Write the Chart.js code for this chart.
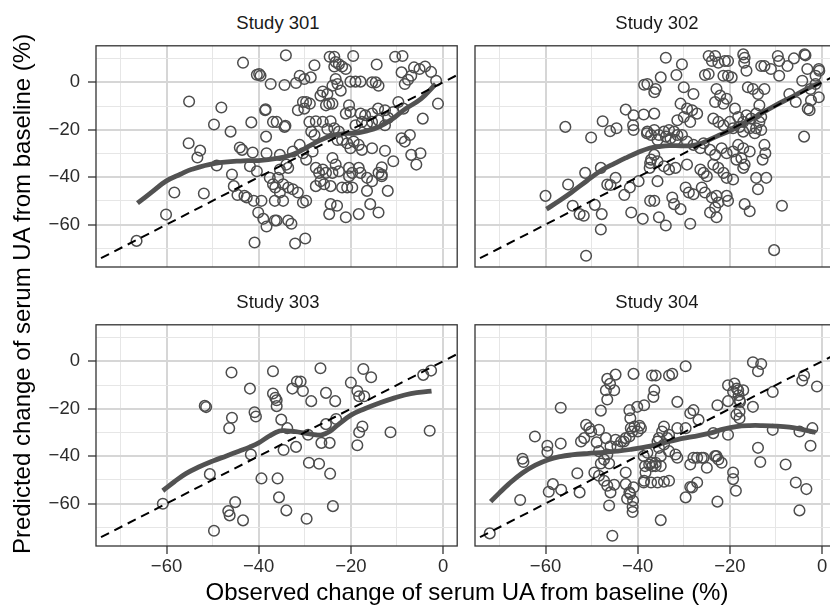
<!DOCTYPE html>
<html><head><meta charset="utf-8">
<script src="https://cdn.jsdelivr.net/npm/chart.js@4"></script>
<style>
html,body{margin:0;padding:0;background:#fff;}
body{width:830px;height:605px;overflow:hidden;position:relative;font-family:"Liberation Sans",Arial,sans-serif;}
canvas{position:absolute;}
.strip{position:absolute;font-size:18.5px;line-height:18.5px;color:#1a1a1a;text-align:center;width:364px;white-space:nowrap;}
.xt{position:absolute;left:67px;width:800px;top:579.7px;font-size:24px;line-height:24px;text-align:center;color:#000;white-space:nowrap;}
.yt{position:absolute;left:-277.6px;top:282.3px;width:600px;height:24px;font-size:24px;line-height:24px;text-align:center;color:#000;white-space:nowrap;transform:rotate(-90deg);}
</style></head><body>
<script>
// ---- categories / labels ----
const studies = ['Study 301', 'Study 302', 'Study 303', 'Study 304'];
const xMajorTicks = [-60, -40, -20, 0];
const yMajorTicks = [-60, -40, -20, 0];
const xMinorTicks = [-70, -50, -30, -10];
const yMinorTicks = [-70, -50, -30, -10, 10];
const xTitle = 'Observed change of serum UA from baseline (%)';
const yTitle = 'Predicted change of serum UA from baseline (%)';

// ---- observed (x) vs predicted (y) points ----
const obs301 = [
[-66.5,-66.9],[-60.1,-55.8],[-58.3,-46.5],[-51.9,-46.9],[-55.1,-8.1],[-55.2,-25.7],[-52.7,-28.8],[-53.3,-31.7],[-49.1,-35.1],[-48.1,-10.6],
[-49.7,-17.8],[-46.1,-20.8],[-43.4,8.3],[-40.4,3.2],[-39.9,3.5],[-39.6,2.8],[-37.4,-0.7],[-41.6,-16.9],[-38.6,-11.8],[-36.9,-16.7],
[-38.4,-22.9],[-44.1,-27.5],[-43.6,-28.5],[-41.3,-29.6],[-38.3,-29.9],[-41.9,-35.4],[-40.4,-37.5],[-45.8,-38.9],[-45.4,-43.8],[-44.6,-47.5],
[-43.1,-47.9],[-42.6,-48.6],[-41.1,-50],[-39.4,-50],[-40.1,-54.9],[-39,-57.6],[-38.3,-60.8],[-40.9,-67.6],[-37.6,-40.3],[-36.9,-43],
[-36.5,-50],[-36.5,-58.3],
[-34.1,11.4],[-24.6,10.8],[-23.6,10.8],[-19.5,11.1],[-27.9,7.2],[-23.3,8.6],[-22.6,7.6],[-21.9,6.7],[-23.6,6.7],[-21.1,5.6],
[-14.4,7.5],[-10.4,10.8],[-8.8,11.1],[-9,4.2],[-6.3,6.3],[-5.1,5.6],[-3.9,6.7],[-2.6,4.4],[-7.6,1.1],[-6.9,2.8],
[-8.3,-0.7],[-1.5,0.7],[-1.1,-9],[-4.4,-15.3],[-31.1,2.8],[-31.9,-0.3],[-30.1,1.4],[-28.7,2.1],[-34.4,-1.1],[-26.1,-3.9],
[-25.1,-4.9],[-26.6,-5.6],[-23.3,1.4],[-24,-1.4],[-22.9,-0.7],[-22.2,-3.5],[-20.1,0.3],[-19,0.3],[-17.9,0.3],[-15.4,0],
[-14.6,0],[-14,-1.4],[-30.4,-8.3],[-29.7,-8.3],[-31.5,-11.8],[-30.1,-11.1],[-28.9,-9],[-24.7,-9],[-25.4,-9.7],[-24,-9],
[-20.4,-9.7],[-21.1,-13.2],[-20.1,-12.5],[-17.9,-13.2],[-16.9,-13.9],[-15.4,-13.2],[-14.1,-11.1],[-12.6,-11.8],[-11.9,-15],[-10.8,-12.5],
[-9.7,-8.3],[-8.6,-11.1],[-36.1,-16.7],[-34.4,-18.8],[-29,-16.7],[-27.6,-16.4],[-26.1,-16.7],[-24.4,-16.4],[-28.6,-20.8],[-27.9,-22.2],
[-25.1,-19.7],[-23.6,-19.4],[-22.6,-20.8],[-19,-18.1],[-17.6,-16.7],[-16.5,-17.4],[-15.4,-16.7],[-14,-16],[-12.6,-18.1],[-22.9,-24.3],
[-21.9,-24.3],[-20.1,-27.8],[-20.8,-25.7],[-19.4,-25],[-18.3,-26.4],[-17.6,-28.5],[-15.4,-27.8],[-9,-23.6],[-8.3,-25],[-7.2,-22.2],
[-6.9,-30.6],[-4.9,-29.9],[-5.8,-34.7],[-12.6,-28.9],[-10.8,-33.3],[-13.3,-35.8],[-13.3,-38.9],[-31.1,-26.4],[-32.6,-29.2],[-30.4,-29.9],
[-28.3,-29.2],[-29.7,-32.6],[-35.4,-30.6],[-34,-34.7],[-33.6,-36.1],[-35.4,-36.8],[-27.6,-36.1],[-26.9,-38.2],[-26.1,-36.8],[-25.4,-38.2],
[-26.6,-41.7],[-27.6,-43.8],[-25.8,-43],[-24,-31.9],[-23.3,-34.7],[-24,-38.2],[-22.6,-37.5],[-20.4,-36.1],[-19.7,-38.2],[-20.4,-39.6],
[-18.3,-36.1],[-17.9,-38.2],[-16.5,-40.3],[-21.9,-44.4],[-20.8,-44.4],[-19.7,-44.4],[-24.4,-43.8],[-16.5,-45.8],[-15.4,-41.7],[-14,-38.2],
[-13.3,-39.6],[-12,-45.8],[-35.8,-40.3],[-34.7,-43],[-33.6,-44.4],[-32.6,-45.1],[-31.5,-46.5],[-35.4,-46.5],[-36.4,-44.4],[-30.4,-50.7],
[-29.7,-50],[-34.7,-50],[-24.4,-51.4],[-23,-52.1],[-24.7,-55.6],[-21.1,-56.9],[-18.3,-55.6],[-15.8,-51.4],[-14,-54.9],[-36.1,-58.3],
[-33.6,-58.3],[-32.9,-59.7],[-32.1,-68],[-29.9,-65.9],[-34.2,-18.3],[-38.5,-11.4]
];
const obs302 = [
[-60,-47.9],[-51.2,-73.2],[-55.7,-18.8],[-55.1,-43.1],[-54.1,-52.1],[-52.6,-55.6],[-51.7,-56.3],[-51.4,-38.2],[-50.1,-23.3],[-49.3,-51.7],
[-47.8,-55.6],[-48,-62.1],[-48,-36.1],[-47.6,-16.4],[-46,-20.6],[-44.6,-19.4],[-46.6,-43.1],[-45.9,-43.3],[-44.8,-40.3],[-42.9,-47.5],
[-41.7,-44.4],[-39.8,-41.7],[-41.4,-54.9],[-38.9,-57.6],[-42.6,-11.5],[-40.9,-13.9],[-41,-18.1],[-40.9,-20.1],[-38.7,-13.6],[-38.6,-1],
[-38,-21.5],[-37.3,-34],[-37.4,-36.1],[-37.3,-50],
[-33.9,10.4],[-30.4,7.6],[-31.6,3.1],[-35,2.1],[-36.1,-2.8],[-36.4,-4.2],[-37.9,-0.7],[-30,-2.1],[-27.9,-4.9],[-24.6,11.1],
[-23.2,11.1],[-23.9,9],[-22.5,8.3],[-21.1,9],[-20.4,9],[-25.4,3.1],[-24.6,3.5],[-21.4,2.8],[-20.4,2.8],[-19.6,2.1],
[-17.1,11.8],[-16.8,10.4],[-16.9,8.3],[-16.4,4.9],[-13.2,6.9],[-12.5,6.9],[-11.1,5.6],[-9.6,11.1],[-9.3,9],[-7.5,6.9],
[-6.1,10.1],[-3.6,11.4],[-3.2,5.6],[-1.4,2.8],[-0.7,5.6],[-9.3,2.8],[-4.3,0.7],[-1.4,-0.7],[-2.5,-2.8],[-0.7,-6.3],
[-3.1,-11.1],[-7.1,-4.9],[-5.7,-8.3],[-3.9,-22.9],[-10.4,-70.8],[-8.7,-52.1],[-22.9,-2.8],[-22.1,-5.6],[-23.2,-8.3],[-21.4,-9],
[-20.7,-6.9],[-16.1,-2.1],[-15,-2.8],[-13.9,-4.9],[-12.5,-2.8],[-13.6,-9.7],[-18.9,-11.1],[-18.2,-14.6],[-17.1,-16.7],[-16.4,-13.9],
[-15.4,-15.3],[-14.3,-13.2],[-13.2,-14.6],[-13.6,-16.7],[-14.3,-19.4],[-30.7,-9],[-29.3,-11.1],[-28.2,-11.8],[-27.1,-13.2],[-31.4,-16],
[-30,-14.6],[-28.6,-16.7],[-36.4,-13.2],[-37.9,-20.8],[-36.4,-20.1],[-35.4,-22.2],[-34.3,-20.8],[-33.2,-20.1],[-32.1,-20.8],[-31.4,-22.2],
[-37.1,-22.2],[-35.7,-24.3],[-33.9,-22.9],[-32.9,-23.6],[-31.8,-24.3],[-30.4,-22.2],[-29.3,-25],[-23.6,-15.3],[-22.5,-16.7],[-21.4,-18.1],
[-20,-16.7],[-19.3,-19.4],[-17.9,-18.8],[-17.1,-20.8],[-15.7,-19.4],[-14.6,-21.5],[-13.2,-20.1],[-27.9,-26.4],[-26.4,-27.8],[-25.7,-25.7],
[-24.3,-28.5],[-23.2,-30.6],[-21.8,-27.8],[-20.7,-29.9],[-19.3,-29.2],[-18.2,-26.4],[-17.1,-27.8],[-15.7,-29.2],[-12.5,-26.4],[-12.3,-29.9],
[-12.9,-32.6],[-17.5,-32],[-16.8,-34.7],[-17.1,-36.1],[-18.6,-32.6],[-36.4,-30.6],[-35.7,-33.3],[-34.3,-35.4],[-33.2,-36.8],[-31.8,-36.1],
[-37.1,-32.6],[-29.3,-34.7],[-26.4,-36.8],[-25.7,-38.2],[-25,-39.6],[-23.6,-34.7],[-22.5,-36.1],[-21.4,-38.2],[-20.7,-40.3],[-19.3,-41],
[-14.3,-40.3],[-12.1,-40.3],[-13.9,-45.1],[-35.7,-41.7],[-29.6,-44.4],[-28.9,-46.5],[-27.9,-47.2],[-26.1,-44.4],[-25.4,-46.5],[-23.9,-48.6],
[-22.9,-47.9],[-22.5,-50.7],[-20.7,-47.9],[-20.4,-50],[-32.5,-48.6],[-32.1,-51.4],[-30.7,-53.5],[-36.4,-50],[-35.4,-56.9],[-33.9,-60.4],
[-28.6,-59.7],[-24.3,-54.9],[-22.9,-56.9],[-23.2,-52.8],[-16.8,-51.4],[-15.7,-54.4],[-2.4,-7.6],[-2.7,-11.8],[-0.6,4.9],[-3.8,11.8]
];
const obs303 = [
[-60.8,-60.1],[-49.7,-71.5],[-50.6,-47.6],[-51.7,-18.8],[-51.4,-19.3],[-45.9,-4.7],[-45.8,-23.8],[-46.4,-28.2],[-41.9,-11.5],[-40.9,-21.5],
[-40.6,-23.3],[-41.7,-39.3],[-39.4,-49.4],[-46.6,-63.2],[-46.3,-65],[-45.1,-59.4],[-43.4,-67.1],[-36.9,-4.2],[-36.9,-13.6],[-36.4,-15.4],
[-36.1,-16.4],[-36.1,-18.9],[-35.1,-24.6],[-33.8,-28.2],[-34.6,-37.4],[-35.9,-49.4],[-35.6,-57.4],[-34,-62.9],[-32.7,-11.5],[-31.7,-8.5],
[-31.9,-36.1],[-26.6,-2.9],[-30.9,-8.5],[-30.4,-12.5],[-28.6,-16.8],[-25.4,-13.3],[-23.4,-16.8],[-17.3,-3.2],[-15.6,-6.7],[-20,-9],
[-18.6,-12.5],[-18.2,-14.7],[-17.1,-14.7],[-4.3,-5.7],[-2.6,-3.9],[-2.9,-29.3],[-11.4,-29.9],[-17.5,-27.5],[-18.2,-29.9],[-18.6,-35.4],
[-23.2,-24.3],[-25.4,-26.5],[-26.4,-34.4],[-24.6,-34.4],[-29.3,-31],[-29.1,-42.8],[-26.9,-43.2],[-24.5,-47.4],[-29.6,-66.4],[-23.9,-61.1]
];
const obs304 = [
[-72.1,-72.6],[-65.5,-58.5],[-65,-41.1],[-64.8,-42.5],[-62.3,-31.7],[-59.6,-35.6],[-59.6,-38.3],[-56.7,-19.6],[-56.7,-34.7],[-59.3,-55],
[-58.4,-51.8],[-56.6,-54.2],[-53.1,-47.2],[-52.6,-55.3],[-51.2,-26.8],[-50.5,-28.2],[-50.1,-29.6],[-52.3,-33.8],[-51.6,-32.4],[-48.4,-28.9],
[-48.9,-34.2],[-46.9,-32.4],[-48,-20.8],[-46.6,-7.4],[-44.8,-5.6],[-46.9,-12.2],[-45.1,-12.2],[-46.6,-16.1],[-40.9,-5.3],[-36.9,-6],
[-41.8,-20.6],[-40.1,-19.2],[-38.6,-18.5],[-41.6,-24],[-40.7,-27.5],[-39.6,-27.2],[-41.2,-29.6],[-41.8,-31.7],[-43,-33.8],[-44.4,-35.8],
[-44.8,-33.1],[-48.4,-37.9],[-46.6,-39.3],[-47.3,-41.4],[-45.9,-35.8],[-49.4,-46.9],[-48.4,-48.3],[-47.3,-50.4],[-46.6,-52.5],[-45.9,-55.3],
[-46.2,-60.8],[-42.6,-46.9],[-42.6,-51.8],[-40.9,-53.2],[-41.6,-56],[-42.3,-58],[-41,-58.8],[-41.1,-63.6],[-45.5,-73.6],[-38.7,-51.1],
[-38.4,-44.2],[-38.7,-40],
[-36.4,-12.2],[-36.6,-15],[-36.1,-6],[-33.2,-6],[-32.5,-5.3],[-29.6,-2.1],[-31.4,-17.1],[-28.6,-21.9],[-27.9,-20.6],[-26.8,-24.7],
[-34.3,-27.5],[-35.4,-32.4],[-35.7,-33.8],[-33.6,-32.4],[-31.4,-28.2],[-29.6,-28.2],[-37.9,-38.6],[-36.8,-44.2],[-36.1,-42.8],[-35,-40],
[-35,-44.2],[-37.1,-42.8],[-33.2,-37.9],[-31.8,-39.3],[-31.4,-40.7],[-38.6,-50.4],[-37.1,-51.1],[-35.7,-51.1],[-34.3,-50.8],[-33.2,-50.4],
[-35,-67],[-29.6,-57.4],[-28.2,-53.2],[-27.1,-51.1],[-28.6,-43.5],[-27.1,-40.7],[-25.7,-40.7],[-25,-44.9],[-23.6,-30.3],[-22.7,-18.5],
[-22.9,-40],[-21.8,-42.8],[-22.7,-59.2],[-20.4,-10.1],[-19,-9.4],[-18.2,-12.2],[-17.1,-12.2],[-19.3,-12.8],[-20.4,-16.8],[-17.9,-16.4],
[-17.9,-21.2],[-17.9,-24],[-18.6,-22.5],[-20.4,-31],[-19.3,-46.9],[-19.3,-49.7],[-18.7,-54.6],[-15,-0.4],[-13.2,-1.1],[-13.9,-4.2],
[-15,-19.2],[-10.7,-12.9],[-10.7,-28.9],[-13.9,-36.5],[-13.4,-42.5],[-7.9,-43.5],[-5.7,-51.1],[-3.4,-53.9],[-4.9,-62.9],[-4.9,-29.6],
[-3.9,-6],[-4.3,-8.1],[-1.1,-10.6],[-2.5,-35.6],[-2.1,-28.2],
[-46,-9.5],[-48,-43.1],[-46.2,-43.1],[-45.1,-52.1],[-41.8,-55.3],[-41.1,-61.5],[-43.6,-33.8],[-42.6,-32.4],[-41.5,-28.2],[-40,-29.6],
[-39.3,-28.2],[-38.3,-46.9],[-37.5,-43.5],[-36.1,-44.2],[-35.4,-36.5],[-34.3,-35.1],[-34.7,-29.6],[-33.2,-31],[-28.6,-53],[-27.9,-40.7],
[-26.1,-40.7],[-23.2,-40],[-22.5,-41.4],[-18.5,-11.5],[-17.8,-17.1],[-18.1,-14.3]
];

// ---- smooth (loess) curves ----
const smooth301 = [[-66.3,-51],[-63,-46],[-60.1,-41.7],[-57,-38.8],[-54.5,-36.7],[-49.5,-34.2],[-43.3,-33.1],[-40,-33],[-35.7,-32],[-33.5,-31],[-31,-29],[-29.2,-27],[-26.5,-24.3],[-24.2,-22.5],[-21.5,-21.6],[-19.2,-21.5],[-16.5,-20.5],[-14.1,-19],[-11,-15.5],[-8.4,-11.5],[-4.8,-7],[-1.6,-0.7]];
const smooth302 = [[-59.8,-53.5],[-57,-50],[-54.4,-46.5],[-51,-41.5],[-47.6,-36.8],[-45,-34.2],[-42.6,-31.9],[-40,-29.6],[-37.5,-27.8],[-35,-27],[-33.2,-26.7],[-30.5,-26.8],[-28.2,-26.7],[-26.1,-25.7],[-23,-22.9],[-19.6,-20.1],[-16.5,-16.8],[-13.9,-13.9],[-10.2,-9.8],[-6.7,-6.3],[-3.5,-3],[-0.3,0]];
const smooth303 = [[-60.8,-54.6],[-58.3,-50.8],[-55.8,-47.4],[-53,-44.6],[-50,-42.1],[-47,-39.9],[-44.3,-37.9],[-42,-36.2],[-40,-34.4],[-37.7,-31.5],[-35.5,-29.4],[-34,-29.3],[-32,-29.7],[-30,-30.3],[-28,-30.9],[-26.3,-31],[-24.5,-29.5],[-22.8,-26.8],[-19.9,-22.6],[-17,-20],[-14.1,-17.8],[-10.5,-15.4],[-7,-13.6],[-2.5,-12.6]];
const smooth304 = [[-71.9,-59.2],[-70,-55.5],[-68,-51.8],[-65.1,-47.2],[-62.2,-43.8],[-59.4,-41.5],[-56.8,-40.2],[-54.4,-39.5],[-51,-38.9],[-47.3,-38.4],[-44.5,-37.9],[-41.6,-37.2],[-37.3,-35.8],[-34.4,-34.4],[-31.4,-33],[-28,-31.8],[-24.3,-30.3],[-21.4,-28.6],[-18.6,-27.5],[-15.7,-27.1],[-12.9,-27.1],[-10,-27.3],[-7.1,-27.8],[-4.2,-28.8],[-1.4,-30]];

// ---- identity reference line (y = x) ----
const identityLine = [[-80,-80],[10,10]];

// ---- axis ranges ----
const xRange = [-75.3, 3.07];
const yRange = [-77.92, 15.42];

const obsAll = [obs301, obs302, obs303, obs304];
const smoothAll = [smooth301, smooth302, smooth303, smooth304];

const PW = 364, PH = 224, YW = 96, XH = 50, PAD = 4;
const layout = [
  {L: 96,  T: 43,  left: true,  bottom: false},
  {L: 475, T: 43,  left: false, bottom: false},
  {L: 96,  T: 322, left: true,  bottom: true},
  {L: 475, T: 322, left: false, bottom: true}
];

const fmt = v => (v < 0 ? '\u2212' + Math.abs(v) : String(v));
const toXY = arr => arr.map(p => ({x: p[0], y: p[1]}));
const CLEAR = 'rgba(0,0,0,0)';

const borderPlugin = {
  id: 'panelBorder',
  afterDatasetsDraw(chart) {
    const a = chart.chartArea, c = chart.ctx;
    c.save();
    c.strokeStyle = '#333333';
    c.lineWidth = 1.3;
    c.strokeRect(a.left, a.top, a.right - a.left, a.bottom - a.top);
    c.restore();
  }
};

function axisOpts(isX, showLabels, majors, minors, range) {
  const all = minors.concat(majors).sort((a, b) => a - b);
  const isMajor = ctx => majors.includes(ctx.tick && ctx.tick.value);
  return {
    type: 'linear',
    position: isX ? 'bottom' : 'left',
    min: range[0], max: range[1],
    afterBuildTicks: s => { s.ticks = all.map(v => ({value: v})); },
    afterFit: s => {
      if (isX) s.height = XH; else s.width = YW;
      s.paddingTop = 0; s.paddingBottom = 0; s.paddingLeft = 0; s.paddingRight = 0;
    },
    border: {display: false},
    grid: {
      color: ctx => isMajor(ctx) ? '#d6d6d6' : '#e6e6e6',
      lineWidth: ctx => isMajor(ctx) ? 2 : 1,
      drawTicks: true,
      tickLength: 8,
      tickColor: ctx => (showLabels && isMajor(ctx)) ? '#333333' : CLEAR,
      tickWidth: 1.3
    },
    ticks: {
      display: true,
      autoSkip: false,
      maxRotation: 0,
      minRotation: 0,
      padding: isX ? 2 : 8,
      color: showLabels ? '#2b2b2b' : CLEAR,
      font: {family: 'Liberation Sans', size: 18.5},
      callback: v => majors.includes(v) ? fmt(v) : ''
    }
  };
}

layout.forEach((g, i) => {
  const cv = document.createElement('canvas');
  const cw = YW + PW + PAD;
  const ch = PAD + PH + XH;
  cv.width = cw; cv.height = ch;
  cv.style.left = (g.L - YW) + 'px';
  cv.style.top = (g.T - PAD) + 'px';
  cv.style.width = cw + 'px'; cv.style.height = ch + 'px';
  document.body.appendChild(cv);

  new Chart(cv.getContext('2d'), {
    type: 'scatter',
    data: {
      datasets: [
        {data: toXY(identityLine), showLine: true, borderColor: '#000000', borderWidth: 2,
         borderDash: [9, 6], pointRadius: 0, fill: false, order: 0, clip: 0},
        {data: toXY(smoothAll[i]), showLine: true, borderColor: '#525252', borderWidth: 4.8,
         pointRadius: 0, fill: false, tension: 0.4, order: 1, clip: 0},
        {data: toXY(obsAll[i]), showLine: false, pointRadius: 5.3, pointBorderWidth: 1.5,
         borderColor: '#4d4d4d', backgroundColor: CLEAR, pointBackgroundColor: CLEAR,
         pointBorderColor: '#4d4d4d', order: 2, clip: 0}
      ]
    },
    options: {
      responsive: false, animation: false, devicePixelRatio: 1,
      layout: {padding: {top: PAD, right: PAD, bottom: 0, left: 0}},
      plugins: {legend: {display: false}, tooltip: {enabled: false}},
      scales: {
        x: axisOpts(true, g.bottom, xMajorTicks, xMinorTicks, xRange),
        y: axisOpts(false, g.left, yMajorTicks, yMinorTicks, yRange)
      }
    },
    plugins: [borderPlugin]
  });

  const s = document.createElement('div');
  s.className = 'strip';
  s.textContent = studies[i];
  s.style.left = g.L + 'px';
  s.style.top = (g.T === 43 ? 14.3 : 292.6) + 'px';
  document.body.appendChild(s);
});

const xt = document.createElement('div'); xt.className = 'xt'; xt.textContent = xTitle; document.body.appendChild(xt);
const yt = document.createElement('div'); yt.className = 'yt'; yt.textContent = yTitle; document.body.appendChild(yt);
</script>
</body></html>
